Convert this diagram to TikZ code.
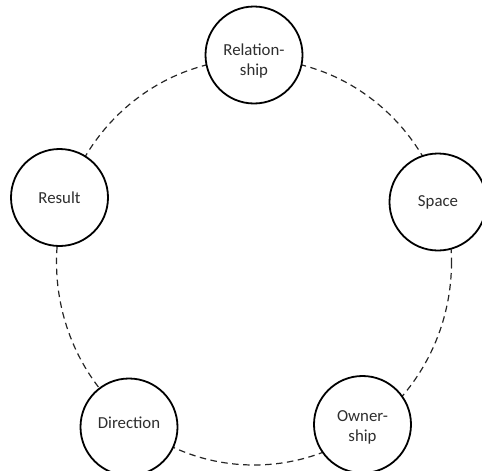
\documentclass[tikz,border=0pt]{standalone}
\usepackage{fontspec}
\setmainfont{Carlito}
\begin{document}
\begin{tikzpicture}[x=1pt,y=-1pt,
  topic/.style={circle,draw=black,line width=1.8pt,fill=white,minimum size=97pt,inner sep=0pt},
  lbl/.style={align=center,inner sep=0pt,font=\fontsize{16.8}{20.5}\selectfont,text=black!82},
  ring/.style={draw=black!85,line width=1.2pt,dash pattern=on 6.5pt off 4.5pt}]
\useasboundingbox (0,0) rectangle (482,471);
\coordinate (c) at (254,262);
\draw[ring] (c) ellipse[x radius=197.5,y radius=203];
\node[topic] (rel) at (254,55) {};
\node[topic] (spa) at (438,202) {};
\node[topic] (res) at (59.5,197.5) {};
\node[topic] (dir) at (129,427) {};
\node[topic] (own) at (362.5,424.5) {};
\node[lbl,yshift=-6pt] (relt) at (rel) {Relation-\\ship};
\node[lbl] (spat) at (spa) {Space};
\node[lbl] (rest) at (res) {Result};
\node[lbl,yshift=4pt] (dirt) at (dir) {Direction};
\node[lbl,yshift=-3pt] (ownt) at (own) {Owner-\\ship};
\end{tikzpicture}
\end{document}
